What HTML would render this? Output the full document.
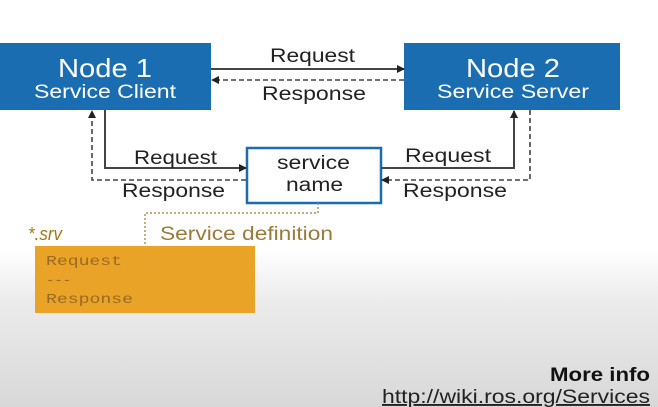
<!DOCTYPE html>
<html><head><style>
html,body{margin:0;padding:0}
body{width:658px;height:407px;overflow:hidden;background:linear-gradient(#fff 0,#fff 250px,#ececec 300px,#d8d8d8 407px);font-family:"Liberation Sans",sans-serif;position:relative}
</style></head><body>
<svg width="658" height="407" style="position:absolute;left:0;top:0" font-family="Liberation Sans, sans-serif">
<defs>
<marker id="a" markerWidth="8" markerHeight="8" refX="7" refY="4" orient="auto" markerUnits="userSpaceOnUse"><path d="M0,0 L8,4 L0,8z" fill="#222"/></marker>
</defs>
<rect x="0" y="43" width="211" height="67" fill="#1b6db2"/>
<rect x="404" y="43" width="216" height="67" fill="#1b6db2"/>
<text x="58" y="77" font-size="26" fill="#fff" textLength="94" lengthAdjust="spacingAndGlyphs">Node 1</text>
<text x="34" y="98" font-size="19" fill="#fff" textLength="142" lengthAdjust="spacingAndGlyphs">Service Client</text>
<text x="466" y="77" font-size="26" fill="#fff" textLength="94" lengthAdjust="spacingAndGlyphs">Node 2</text>
<text x="437" y="98" font-size="19" fill="#fff" textLength="152" lengthAdjust="spacingAndGlyphs">Service Server</text>
<rect x="247" y="148" width="134" height="55" fill="#fff" stroke="#1b6db2" stroke-width="2.5"/>
<text x="277" y="169" font-size="19" fill="#222" textLength="73" lengthAdjust="spacingAndGlyphs">service</text>
<text x="286" y="191" font-size="19" fill="#222" textLength="57" lengthAdjust="spacingAndGlyphs">name</text>
<g stroke="#444" stroke-width="2" fill="none">
<line x1="211" y1="69" x2="404" y2="69" marker-end="url(#a)"/>
<polyline points="105,110 105,168 246,168" marker-end="url(#a)"/>
<polyline points="381,168 514,168 514,111" marker-end="url(#a)"/>
</g>
<g stroke="#444" stroke-width="1.6" fill="none" stroke-dasharray="5,3">
<line x1="404" y1="80" x2="212" y2="80" marker-end="url(#a)"/>
<polyline points="246,180 92,180 92,111" marker-end="url(#a)"/>
<polyline points="530,110 530,180 382,180" marker-end="url(#a)"/>
</g>
<polyline points="318,203 318,213 145,213 145,245" stroke="#b09050" stroke-width="1.5" stroke-dasharray="2,2" fill="none"/>
<g font-size="19" fill="#222">
<text x="270" y="62" textLength="85" lengthAdjust="spacingAndGlyphs">Request</text>
<text x="262" y="100" textLength="104" lengthAdjust="spacingAndGlyphs">Response</text>
<text x="134" y="164" textLength="83" lengthAdjust="spacingAndGlyphs">Request</text>
<text x="122" y="197" textLength="103" lengthAdjust="spacingAndGlyphs">Response</text>
<text x="405" y="162" textLength="86" lengthAdjust="spacingAndGlyphs">Request</text>
<text x="403" y="197" textLength="104" lengthAdjust="spacingAndGlyphs">Response</text>
</g>
<text x="28" y="240" font-size="18" font-style="italic" fill="#a07818" textLength="34" lengthAdjust="spacingAndGlyphs">*.srv</text>
<text x="160" y="240" font-size="19" fill="#9a7a3a" textLength="173" lengthAdjust="spacingAndGlyphs">Service definition</text>
<rect x="35" y="246" width="220" height="67" fill="#e9a427"/>
<g font-family="Liberation Mono, monospace" font-size="14" fill="#9a6a20">
<text x="46" y="265" textLength="76" lengthAdjust="spacingAndGlyphs">Request</text>
<text x="46" y="284">---</text>
<text x="46" y="303" textLength="87" lengthAdjust="spacingAndGlyphs">Response</text>
</g>
<text x="550" y="381" font-size="19" font-weight="bold" fill="#111" textLength="100" lengthAdjust="spacingAndGlyphs">More info</text>
<text x="382" y="403" font-size="19" fill="#222" text-decoration="underline" textLength="268" lengthAdjust="spacingAndGlyphs">http://wiki.ros.org/Services</text>
</svg>
</body></html>
